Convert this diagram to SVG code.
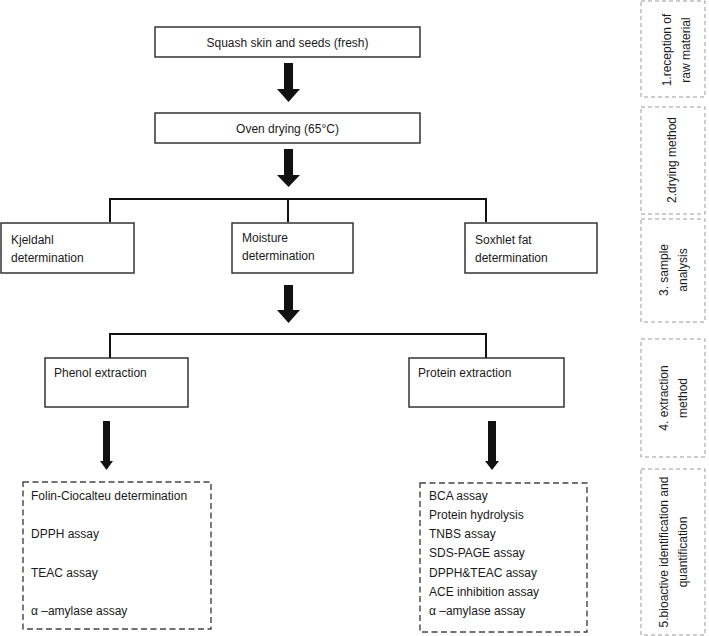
<svg xmlns="http://www.w3.org/2000/svg" width="709" height="636" viewBox="0 0 709 636">
<defs>
<style>
text{font-family:"Liberation Sans",Arial,sans-serif;font-size:12px;fill:#1a1a1a}
.box{fill:#fff;stroke:#333;stroke-width:1.5}
.dbox{fill:#fff;stroke:#444;stroke-width:1.4;stroke-dasharray:6 3.5}
.lbox{fill:none;stroke:#9a9a9a;stroke-width:1;stroke-dasharray:4 3}
.ln{fill:none;stroke:#111;stroke-width:2}
.arr{fill:#111}
.c{text-anchor:middle}
</style>
</defs>
<rect width="709" height="636" fill="#fff"/>

<g id="connectors">
<path class="arr" d="M284,63 H293 V89 H300 L288.5,102 L277,89 H284 Z"/>
<path class="arr" d="M284,149 H293 V175 H300 L288.5,187 L277,175 H284 Z"/>
<path class="ln" d="M110,222 V199 H486 V222 M288,199 V222"/>
<path class="arr" d="M284,285 H293 V310 H300 L288.5,323 L277,310 H284 Z"/>
<path class="ln" d="M110,358 V334 H486 V358"/>
<path class="arr" d="M103,421 H110 V461 H113 L106.5,470 L100,461 H103 Z"/>
<path class="arr" d="M488,421 H496 V461 H499 L492,470 L485,461 H488 Z"/>
</g>

<g id="n1">
<rect class="box" x="155" y="27" width="265" height="30"/>
<text class="c" x="287.5" y="47">Squash skin and seeds (fresh)</text>
</g>
<g id="n2">
<rect class="box" x="155" y="113" width="265" height="30"/>
<text class="c" x="287.5" y="133">Oven drying (65°C)</text>
</g>
<g id="n3">
<rect class="box" x="1" y="223" width="133" height="50"/>
<text x="11" y="244">Kjeldahl</text>
<text x="11" y="262">determination</text>
</g>
<g id="n4">
<rect class="box" x="232" y="223" width="121" height="50"/>
<text x="242" y="242">Moisture</text>
<text x="242" y="260">determination</text>
</g>
<g id="n5">
<rect class="box" x="465" y="223" width="132" height="50"/>
<text x="475" y="244">Soxhlet fat</text>
<text x="475" y="262">determination</text>
</g>
<g id="n6">
<rect class="box" x="45" y="358" width="143" height="49"/>
<text x="54" y="377">Phenol extraction</text>
</g>
<g id="n7">
<rect class="box" x="409" y="358" width="155" height="49"/>
<text x="418" y="377">Protein extraction</text>
</g>
<g id="n8">
<rect class="dbox" x="23" y="482" width="188" height="147"/>
<text x="31" y="500">Folin-Ciocalteu determination</text>
<text x="31" y="538">DPPH assay</text>
<text x="31" y="577">TEAC assay</text>
<text x="31" y="615">α –amylase assay</text>
</g>
<g id="n9">
<rect class="dbox" x="420" y="483" width="167" height="149"/>
<text x="429" y="500">BCA assay</text>
<text x="429" y="519">Protein hydrolysis</text>
<text x="429" y="538">TNBS assay</text>
<text x="429" y="557">SDS-PAGE assay</text>
<text x="429" y="577">DPPH&amp;TEAC assay</text>
<text x="429" y="596">ACE inhibition assay</text>
<text x="429" y="615">α –amylase assay</text>
</g>

<g id="s1">
<rect class="lbox" x="641" y="1" width="64" height="96"/>
<text class="c" transform="translate(671,50) rotate(-90)">1.reception of</text>
<text class="c" transform="translate(690,50) rotate(-90)">raw material</text>
</g>
<g id="s2">
<rect class="lbox" x="641" y="107" width="64" height="107"/>
<text class="c" transform="translate(676,160) rotate(-90)">2.drying method</text>
</g>
<g id="s3">
<rect class="lbox" x="641" y="219" width="64" height="103"/>
<text class="c" transform="translate(668,270) rotate(-90)">3. sample</text>
<text class="c" transform="translate(687,270) rotate(-90)">analysis</text>
</g>
<g id="s4">
<rect class="lbox" x="641" y="339" width="64" height="118"/>
<text class="c" transform="translate(668,398) rotate(-90)">4. extraction</text>
<text class="c" transform="translate(687,398) rotate(-90)">method</text>
</g>
<g id="s5">
<rect class="lbox" x="641" y="469" width="64" height="166"/>
<text class="c" transform="translate(668,552) rotate(-90)">5.bioactive identification and</text>
<text class="c" transform="translate(687,552) rotate(-90)">quantification</text>
</g>
</svg>
